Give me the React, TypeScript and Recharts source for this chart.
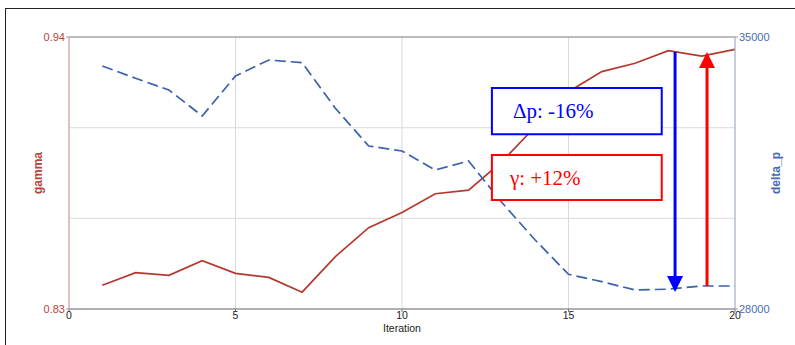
import React from "react";
import {
  LineChart,
  Line,
  XAxis,
  YAxis,
  CartesianGrid,
  ReferenceArea,
  ReferenceLine,
  Label,
} from "recharts";

const iterations = [1, 2, 3, 4, 5, 6, 7, 8, 9, 10, 11, 12, 13, 14, 15, 16, 17, 18, 19, 20];
const gamma = [
  0.8396, 0.8447, 0.8436, 0.8495, 0.8444, 0.8428, 0.8368, 0.8512, 0.8629, 0.869,
  0.8766, 0.8781, 0.8896, 0.9037, 0.9179, 0.926, 0.9294, 0.9345, 0.9323, 0.935,
];
const deltaP = [
  34254, 33937, 33636, 32967, 33996, 34408, 34339, 33165, 32195, 32066,
  31577, 31809, 30740, 29776, 28893, 28703, 28489, 28510, 28592, 28592,
];
const xTicks = [0, 5, 10, 15, 20];
const gammaTicks = [0.83, 0.8667, 0.9033, 0.94];
const deltaTicks = [28000, 35000];

const data = iterations.map((it, i) => ({ it, gamma: gamma[i], deltaP: deltaP[i] }));

const RED = "#b3392f";
const BLUE = "#3b62a9";

const LeftTick = (props: any) => {
  const { x, y, payload } = props;
  const v = payload.value;
  if (v !== gammaTicks[0] && v !== gammaTicks[gammaTicks.length - 1]) return <g />;
  return (
    <g>
      <line x1={x} x2={x + 3} y1={y} y2={y} stroke="#c98a86" />
      <text x={x - 1} y={y} textAnchor="end" dominantBaseline="central" fill="#b5443b" fontSize={11}>
        {v.toFixed(2)}
      </text>
    </g>
  );
};

const RightTick = (props: any) => {
  const { x, y, payload } = props;
  return (
    <g>
      <line x1={x - 3} x2={x} y1={y} y2={y} stroke="#8a9cc0" />
      <text x={x + 1} y={y} textAnchor="start" dominantBaseline="central" fill="#4a6bb0" fontSize={11}>
        {payload.value}
      </text>
    </g>
  );
};

const sideLabel = (text: string, color: string, dx: number) => (props: any) => {
  const vb = props.viewBox;
  const cx = vb.x + dx;
  const cy = vb.y + vb.height / 2;
  return (
    <text
      x={cx}
      y={cy}
      transform={`rotate(-90 ${cx} ${cy})`}
      textAnchor="middle"
      dominantBaseline="central"
      fill={color}
      fontWeight="bold"
      fontSize={12}
    >
      {text}
    </text>
  );
};

const boxText = (text: string, color: string, pad: number) => (props: any) => {
  const vb = props.viewBox;
  return (
    <text
      x={vb.x + pad}
      y={vb.y + vb.height / 2}
      dominantBaseline="central"
      fill={color}
      fontSize={21}
      fontFamily="'Liberation Serif', 'DejaVu Serif', serif"
    >
      {text}
    </text>
  );
};

const arrow = (color: string) => (props: any) => {
  const { x1, y1, x2, y2 } = props;
  const dir = Math.sign(y2 - y1);
  const baseY = y2 - dir * 16;
  return (
    <g>
      <line x1={x1} y1={y1} x2={x2} y2={baseY} stroke={color} strokeWidth={3} />
      <polygon points={`${x2 - 8},${baseY} ${x2 + 8},${baseY} ${x2},${y2}`} fill={color} />
    </g>
  );
};

export default function App() {
  return (
    <div style={{ position: "absolute", left: 0, top: 0, width: 795, height: 345, background: "#fff", overflow: "hidden" }}>
      <div
        style={{
          position: "absolute",
          left: 5,
          top: 8,
          width: 820,
          height: 400,
          border: "1px solid #222",
        }}
      />
      <div style={{ position: "absolute", left: 0, top: 0 }}>
        <LineChart
          width={795}
          height={345}
          data={data}
          margin={{ top: 37, right: 0, bottom: 0, left: 0 }}
          style={{ fontFamily: "'Liberation Sans', Arial, sans-serif" }}
        >
          <CartesianGrid yAxisId="left" stroke="#d9d9d9" strokeWidth={1} />
          <XAxis
            dataKey="it"
            type="number"
            domain={[0, 20]}
            ticks={xTicks}
            height={36}
            tickSize={3}
            tickMargin={0}
            stroke="#777"
            tick={{ fill: "#222", fontSize: 10.5 }}
          >
            <Label
              content={(props: any) => {
                const vb = props.viewBox;
                return (
                  <text x={vb.x + vb.width / 2} y={vb.y + 19} textAnchor="middle" dominantBaseline="central" fill="#222" fontSize={10.5}>
                    Iteration
                  </text>
                );
              }}
            />
          </XAxis>
          <YAxis
            yAxisId="left"
            domain={[0.83, 0.94]}
            ticks={gammaTicks}
            width={69}
            tickSize={3}
            tickMargin={0}
            tickLine={false}
            stroke="#d49a96"
            tick={<LeftTick />}
          >
            <Label content={sideLabel("gamma", "#b5443b", 38)} />
          </YAxis>
          <YAxis
            yAxisId="right"
            orientation="right"
            domain={[28000, 35000]}
            ticks={deltaTicks}
            width={60}
            tickSize={3}
            tickMargin={0}
            tickLine={false}
            stroke="#9fb0c8"
            tick={<RightTick />}
          >
            <Label content={sideLabel("delta_p", "#4a6bb0", 41)} />
          </YAxis>
          <ReferenceLine yAxisId="left" y={0.94} stroke="#8c8c8c" />
          <Line
            yAxisId="left"
            dataKey="gamma"
            type="linear"
            stroke={RED}
            strokeWidth={1.7}
            dot={false}
            isAnimationActive={false}
          />
          <Line
            yAxisId="right"
            dataKey="deltaP"
            type="linear"
            stroke={BLUE}
            strokeWidth={1.7}
            strokeDasharray="11 5"
            dot={false}
            isAnimationActive={false}
          />
          <ReferenceArea
            yAxisId="right"
            x1={12.7}
            x2={17.8}
            y1={32500}
            y2={33690}
            fill="#fff"
            fillOpacity={1}
            stroke="#0000ff"
            strokeWidth={2}
            zIndex={700}
            label={boxText("\u0394p: -16%", "#0000ff", 21)}
          />
          <ReferenceArea
            yAxisId="right"
            x1={12.7}
            x2={17.8}
            y1={30805}
            y2={31963}
            fill="#fff"
            fillOpacity={1}
            stroke="#ff0000"
            strokeWidth={2}
            zIndex={700}
            label={boxText("\u03b3: +12%", "#ff0000", 18)}
          />
          <ReferenceLine
            yAxisId="right"
            segment={[
              { x: 18.2, y: 34614 },
              { x: 18.2, y: 28437 },
            ]}
            zIndex={800}
            shape={arrow("#0000ff")}
          />
          <ReferenceLine
            yAxisId="right"
            segment={[
              { x: 19.16, y: 28592 },
              { x: 19.16, y: 34614 },
            ]}
            zIndex={800}
            shape={arrow("#ff0000")}
          />
        </LineChart>
      </div>
    </div>
  );
}
